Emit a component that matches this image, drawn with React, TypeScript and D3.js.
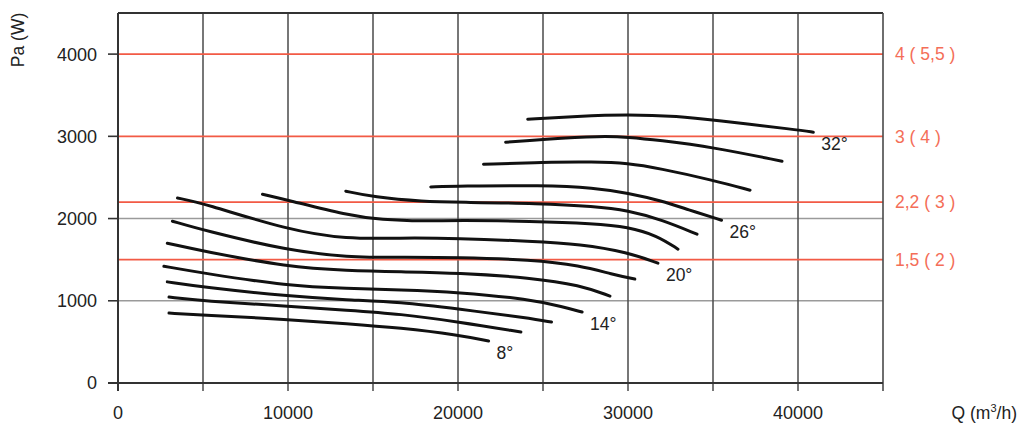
import React from "react";
import * as d3 from "d3";

const xTicks = [0, 10000, 20000, 30000, 40000];
const xGrid = [5000, 10000, 15000, 20000, 25000, 30000, 35000, 40000];
const yTicks = [0, 1000, 2000, 3000, 4000];
const yGrayGrid = [1000, 2000];
const redLevels = [4000, 3000, 2200, 1500];
const redLabels = ["4 ( 5,5 )", "3 ( 4 )", "2,2 ( 3 )", "1,5 ( 2 )"];

const curveNames = ["8°", "10°", "12°", "14°", "16°", "18°", "20°", "22°", "24°", "26°", "28°", "30°", "32°"];
const labeled = ["8°", "14°", "20°", "26°", "32°"];

const c8: [number, number][] = [[3000, 850], [5000, 828], [10000, 772], [13500, 722], [16600, 670], [20000, 585], [21800, 510]];
const c10: [number, number][] = [[3000, 1045], [5000, 998], [10000, 935], [13500, 885], [16600, 840], [20000, 745], [23700, 620]];
const c12: [number, number][] = [[2900, 1230], [5000, 1166], [10000, 1055], [13500, 1010], [16600, 985], [20000, 900], [24200, 790], [25500, 741]];
const c14: [number, number][] = [[2700, 1420], [5000, 1336], [10000, 1180], [13500, 1150], [16600, 1135], [20000, 1105], [24200, 1020], [26200, 925], [27300, 863]];
const c16: [number, number][] = [[2900, 1700], [5000, 1604], [10000, 1410], [13500, 1367], [16600, 1352], [20000, 1340], [24300, 1280], [27200, 1190], [28940, 1057]];
const c18: [number, number][] = [[3200, 1968], [5000, 1859], [10000, 1610], [13500, 1530], [16600, 1528], [20000, 1528], [24300, 1500], [27200, 1430], [29100, 1320], [30400, 1264]];
const c20: [number, number][] = [[3500, 2250], [5000, 2187], [10000, 1860], [13500, 1748], [16500, 1765], [20000, 1760], [24300, 1725], [27200, 1690], [30000, 1590], [31760, 1458]];
const c22: [number, number][] = [[8500, 2296], [10000, 2224], [13500, 2040], [15500, 1985], [18000, 1968], [20000, 1980], [24300, 1968], [28000, 1940], [30000, 1900], [31700, 1795], [32940, 1628]];
const c24: [number, number][] = [[13400, 2333], [15000, 2262], [18000, 2205], [20000, 2198], [24800, 2185], [28000, 2150], [30000, 2100], [32000, 1985], [34060, 1810]];
const c26: [number, number][] = [[18400, 2385], [20000, 2395], [25000, 2405], [28000, 2375], [30000, 2310], [32000, 2215], [33500, 2110], [35500, 1980]];
const c28: [number, number][] = [[21500, 2661], [25000, 2685], [28000, 2690], [30000, 2673], [31800, 2612], [35000, 2467], [37180, 2345]];
const c30: [number, number][] = [[22800, 2928], [25000, 2965], [28500, 3005], [30000, 2990], [31800, 2953], [35000, 2868], [39060, 2697]];
const c32: [number, number][] = [[24100, 3208], [27000, 3245], [30000, 3268], [33000, 3245], [35000, 3200], [40000, 3078], [40900, 3050]];

const curves = [c8, c10, c12, c14, c16, c18, c20, c22, c24, c26, c28, c30, c32];

const W = 1021;
const H = 425;
const FONT = "'Liberation Sans', Arial, Helvetica, sans-serif";
const RED = "#f25a45";
const RED_TEXT = "#f46e58";

export default function App() {
  const x = d3.scaleLinear().domain([0, 45000]).range([118, 883]);
  const y = d3.scaleLinear().domain([0, 4500]).range([383, 13]);
  const line = d3
    .line<[number, number]>()
    .x((d) => x(d[0]))
    .y((d) => y(d[1]))
    .curve(d3.curveBasis);

  return (
    <svg
      width={W}
      height={H}
      style={{ position: "absolute", left: 0, top: 0, background: "#fff" }}
      fontFamily={FONT}
    >
      <rect x={0} y={0} width={W} height={H} fill="#fff" />
      {yGrayGrid.map((v) => (
        <line key={"hg" + v} x1={x(0)} x2={x(45000)} y1={y(v)} y2={y(v)} stroke="#9a9a9a" strokeWidth={1.6} />
      ))}
      {xGrid.map((v) => (
        <line key={"vg" + v} x1={x(v)} x2={x(v)} y1={y(4500)} y2={y(0) + 8} stroke="#4a4a4a" strokeWidth={1.5} />
      ))}
      {redLevels.map((v) => (
        <line key={"r" + v} x1={x(0)} x2={x(45000)} y1={y(v)} y2={y(v)} stroke={RED} strokeWidth={1.6} />
      ))}
      <line x1={x(0)} x2={x(45000)} y1={y(4500)} y2={y(4500)} stroke="#333" strokeWidth={1.8} />
      <line x1={x(45000)} x2={x(45000)} y1={y(4500)} y2={y(0) + 8} stroke="#4a4a4a" strokeWidth={1.6} />
      <line x1={x(0)} x2={x(0)} y1={y(4500)} y2={y(0) + 8} stroke="#333" strokeWidth={2} />
      <line x1={x(0) - 10} x2={x(45000)} y1={y(0)} y2={y(0)} stroke="#333" strokeWidth={2} />
      {yTicks.map((v) => (
        <g key={"yt" + v}>
          <line x1={x(0) - 10} x2={x(0)} y1={y(v)} y2={y(v)} stroke="#333" strokeWidth={1.6} />
          <text x={x(0) - 21} y={y(v)} dy="0.36em" textAnchor="end" fontSize={18} fill="#222">
            {v}
          </text>
        </g>
      ))}
      {xTicks.map((v) => (
        <text key={"xt" + v} x={x(v)} y={419} textAnchor="middle" fontSize={18} fill="#222">
          {v}
        </text>
      ))}
      {redLevels.map((v, i) => (
        <text key={"rl" + v} x={895} y={y(v)} dy="0.36em" fontSize={17.5} fill={RED_TEXT}>
          {redLabels[i]}
        </text>
      ))}
      {curves.map((c, i) => (
        <path key={"c" + i} d={line(c) || ""} fill="none" stroke="#111" strokeWidth={3} strokeLinecap="round" />
      ))}
      {curves.map((c, i) =>
        labeled.includes(curveNames[i]) ? (
          <text
            key={"cl" + i}
            x={x(c[c.length - 1][0]) + 8}
            y={y(c[c.length - 1][1]) + 18}
            fontSize={17.5}
            fill="#222"
          >
            {curveNames[i]}
          </text>
        ) : null
      )}
      <text transform={`translate(24,40) rotate(-90)`} textAnchor="middle" fontSize={17.5} fill="#222">
        Pa (W)
      </text>
      <text x={1017} y={419} textAnchor="end" fontSize={17.5} fill="#222">
        Q (m<tspan dy={-7} fontSize={11}>3</tspan>
        <tspan dy={7}>/h)</tspan>
      </text>
    </svg>
  );
}
